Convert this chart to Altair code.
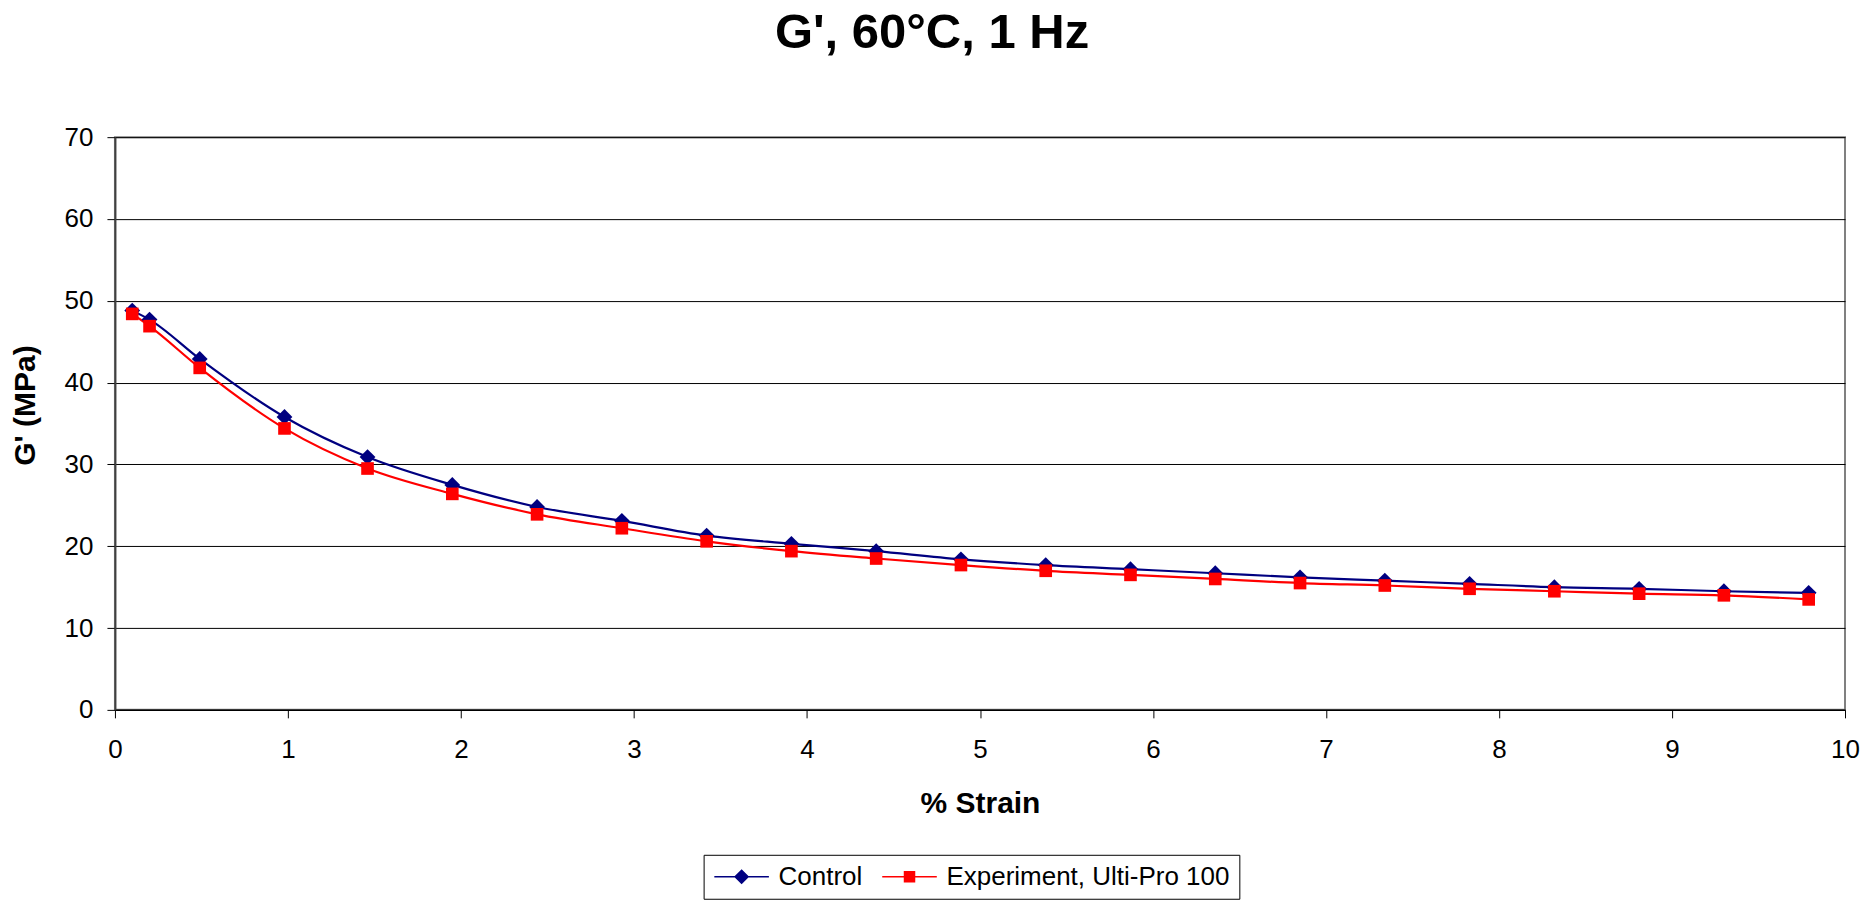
import altair as alt
import pandas as pd

# ---- data ----
strain = [0.1, 0.2, 0.49, 0.98, 1.46, 1.95, 2.44, 2.93, 3.42, 3.91, 4.4,
          4.89, 5.38, 5.87, 6.36, 6.85, 7.34, 7.83, 8.32, 8.81, 9.3, 9.79]
control = [48.8, 47.7, 42.9, 35.8, 30.9, 27.5, 24.8, 23.1, 21.3, 20.3, 19.4,
           18.4, 17.7, 17.2, 16.7, 16.2, 15.8, 15.4, 15.0, 14.8, 14.5, 14.3]
experiment = [48.4, 46.9, 41.8, 34.4, 29.5, 26.4, 23.9, 22.2, 20.6, 19.4, 18.5,
              17.7, 17.0, 16.5, 16.0, 15.5, 15.2, 14.8, 14.5, 14.2, 14.0, 13.5]
series_names = ["Control", "Experiment, Ulti-Pro 100"]
series_colors = ["#000080", "#FF0000"]
series_shapes = ["diamond", "square"]
series_sizes = [250, 160]
x_ticks = [0, 1, 2, 3, 4, 5, 6, 7, 8, 9, 10]
y_ticks = [0, 10, 20, 30, 40, 50, 60, 70]

rows = []
for s, c, e in zip(strain, control, experiment):
    rows.append({"strain": s, "g": c, "series": series_names[0]})
    rows.append({"strain": s, "g": e, "series": series_names[1]})
df = pd.DataFrame(rows)

FONT = "Liberation Sans"

x = alt.X("strain:Q", scale=alt.Scale(domain=[0, 10], nice=False, zero=False),
          axis=alt.Axis(values=x_ticks, title="% Strain", grid=False, labelFlush=False,
                        labelPadding=19, titlePadding=26,
                        domainColor="black", domainWidth=1.5))
y = alt.Y("g:Q", scale=alt.Scale(domain=[0, 70], nice=False),
          axis=alt.Axis(values=y_ticks, title="G' (MPa)", grid=True, labelFlush=False,
                        gridColor="black", gridWidth=1,
                        labelPadding=14, titlePadding=24, titleY=268,
                        domainColor="#404040", domainWidth=2))

layers = []
for name, col in zip(series_names, series_colors):
    layers.append(
        alt.Chart(df).transform_filter(alt.datum.series == name)
        .mark_line(interpolate="monotone", strokeWidth=2.2, color=col)
        .encode(x=x, y=y)
    )
for name, col, shp, sz in zip(series_names, series_colors, series_shapes, series_sizes):
    layers.append(
        alt.Chart(df).transform_filter(alt.datum.series == name)
        .mark_point(filled=True, opacity=1, shape=shp, size=sz, color=col)
        .encode(x=x, y=y)
    )

# legend symbols: a line segment with the series marker in its middle
legend_paths = [
    "M-4.2,0L4.2,0M0,-1L1,0L0,1L-1,0Z",
    "M-4.2,0L4.2,0M-0.77,-0.77L0.77,-0.77L0.77,0.77L-0.77,0.77Z",
]
leg = alt.Legend(title=None, orient="none", legendX=589, legendY=718,
                 direction="horizontal", columns=2,
                 labelFont=FONT, labelFontSize=26, labelColor="black", labelLimit=600,
                 symbolSize=169, symbolStrokeWidth=1.5, symbolOffset=16, labelOffset=24,
                 columnPadding=16, padding=9, strokeColor="black",
                 fillColor="white")
# legend carrier: draws no marks (all rows filtered out), only its legend
legend_layer = alt.Chart(df).transform_filter("false").mark_point(
    strokeWidth=1.5, opacity=1
).encode(
    x=x, y=y,
    shape=alt.Shape("series:N", scale=alt.Scale(domain=series_names, range=legend_paths), legend=leg),
    fill=alt.Fill("series:N", scale=alt.Scale(domain=series_names, range=series_colors), legend=leg),
    stroke=alt.Stroke("series:N", scale=alt.Scale(domain=series_names, range=series_colors), legend=leg),
)
layers.append(legend_layer)

chart = alt.layer(*layers).properties(
    width=1731, height=573,
    title=alt.Title("G', 60°C, 1 Hz", font=FONT, fontSize=49, fontWeight="bold",
                    color="black", anchor="middle", offset=66, dx=-48),
    padding={"left": 2, "top": 1, "right": 0, "bottom": 0},
).configure_view(
    stroke="#808080", strokeWidth=2
).configure_axis(
    labelFont=FONT, labelFontSize=26, labelColor="black",
    titleFont=FONT, titleFontSize=30, titleFontWeight="bold", titleColor="black",
    tickSize=8, tickColor="black", tickWidth=1,
)

chart.save("out.html", embed_options={"renderer": "svg", "actions": False})
